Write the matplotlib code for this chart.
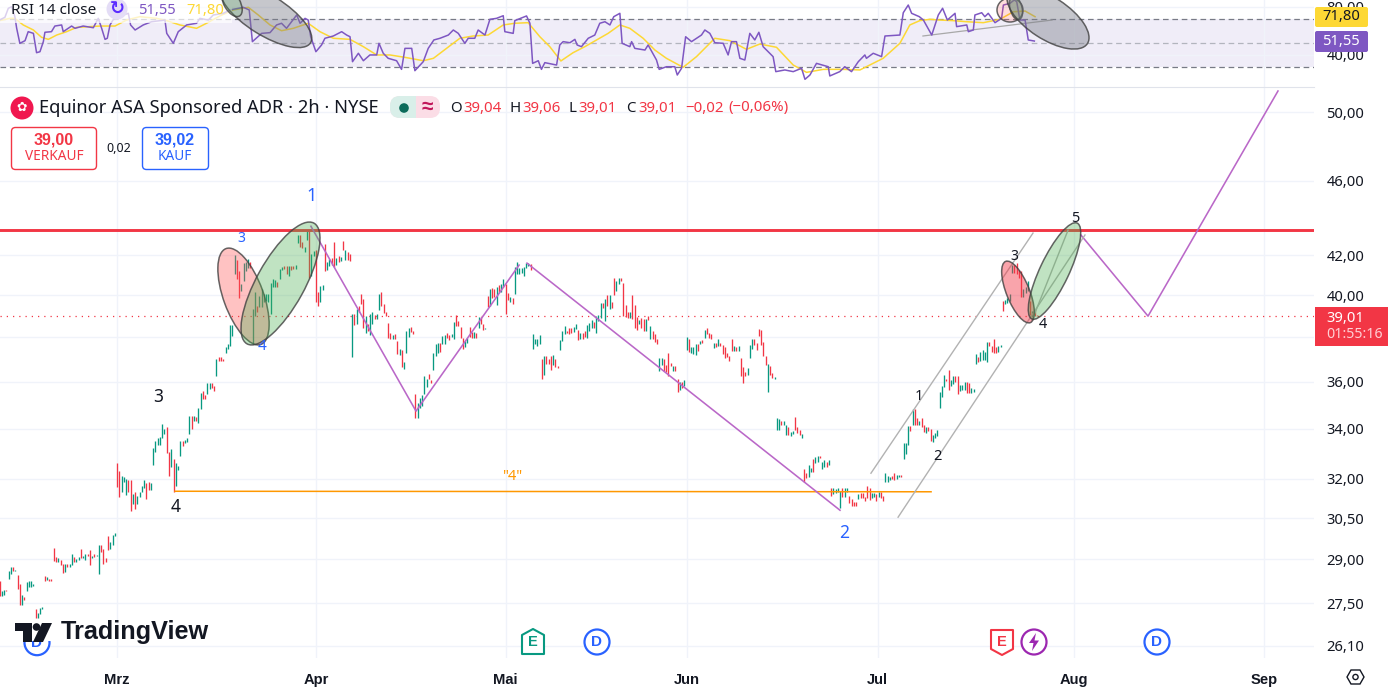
import matplotlib
matplotlib.use("Agg")
import matplotlib.pyplot as plt
from matplotlib.patches import Ellipse, Rectangle, FancyBboxPatch, Circle, Polygon

plt.rcParams["font.family"] = ["Noto Sans", "DejaVu Sans"]

GREEN = "#089981"
RED = "#f23645"
BLUE = "#2962ff"
PURPLE = "#7e57c2"
YELLOW = "#fdd835"
GRID = "#f0f3fa"
MAGENTA = "#ba68c8"
BOLD_FONT = ["Liberation Sans", "DejaVu Sans"]

# 2h bars as (open, close), wicks are left in the range
feb_bars = [
    (28.25, 27.74), (27.74, 27.91), (27.76, 27.95), (27.95, 27.90), (28.33, 28.58), (28.50, 28.73),
    (28.73, 28.58), (28.58, 28.64), (28.47, 27.97), (28.13, 27.42), (27.44, 27.78), (27.70, 27.59),
    (27.90, 28.22), (28.05, 28.24), (28.05, 28.26), (28.07, 28.16), (27.29, 27.00), (27.02, 27.16),
    (27.13, 27.34), (27.30, 27.37), (28.42, 28.24), (28.27, 28.39), (28.32, 28.24), (28.32, 28.24),
    (29.41, 28.94), (29.07, 28.90), (28.90, 29.05), (28.97, 28.82), (28.84, 28.51), (28.56, 28.84),
    (28.83, 28.72), (28.73, 28.85), (28.82, 29.19), (29.09, 28.92), (28.92, 29.01), (28.98, 29.09),
    (29.38, 29.04), (29.06, 29.13), (28.99, 29.20), (29.20, 29.13), (29.34, 28.82), (29.04, 29.13),
    (29.20, 29.10), (29.13, 29.15), (28.49, 29.52), (29.52, 29.28), (29.38, 28.84), (29.05, 28.90),
    (29.84, 29.35), (29.38, 29.62), (29.52, 29.87), (29.84, 29.95),
]
mar_bars = [
    (32.60, 31.66), (32.29, 31.29), (31.49, 32.11), (31.87, 32.07), (31.36, 32.00), (31.94, 31.47),
    (31.94, 30.76), (31.03, 31.39), (31.47, 30.83), (31.01, 31.34), (31.30, 31.49), (31.47, 31.70),
    (31.62, 31.96), (31.81, 31.21), (31.87, 31.56), (31.56, 31.81), (32.54, 33.21), (33.05, 33.51),
    (33.34, 33.63), (33.34, 33.65), (33.63, 34.21), (33.77, 34.01), (34.08, 33.00), (33.05, 32.09),
    (32.44, 33.17), (32.76, 31.48), (31.72, 32.60), (32.34, 32.51), (32.90, 33.51), (33.50, 33.30),
    (33.41, 33.54), (33.47, 33.61), (33.77, 34.52), (34.52, 33.98), (34.34, 34.52), (34.48, 34.34),
    (34.25, 34.88), (34.84, 35.51), (35.62, 35.27), (35.44, 35.24), (35.45, 35.97), (35.69, 35.94),
    (35.94, 35.72), (35.83, 35.62), (36.27, 37.02), (37.09, 36.91), (37.09, 36.94), (37.02, 36.93),
    (37.28, 37.58), (37.46, 37.69), (37.61, 38.58), (38.06, 38.58), (41.03, 42.00), (41.76, 40.79),
    (41.19, 39.87), (40.23, 40.55), (40.71, 41.60), (41.19, 41.68), (41.35, 41.79), (41.68, 41.35),
    (37.69, 39.34), (39.02, 40.14), (39.50, 39.18), (39.42, 39.98), (39.42, 40.31), (39.66, 40.06),
    (39.74, 40.06), (39.66, 40.06), (39.10, 40.60), (40.39, 40.79), (40.39, 40.76), (40.63, 40.39),
    (40.82, 41.31), (41.27, 41.40), (41.47, 41.31), (41.44, 41.03), (40.95, 41.44), (41.47, 41.24),
    (41.47, 41.31), (41.31, 41.52), (42.61, 43.04), (43.04, 42.41), (42.66, 42.38), (42.17, 42.41),
    (42.79, 43.32), (43.32, 40.87), (40.95, 42.08), (41.97, 42.21),
]
apr_bars = [
    (42.25, 39.66), (40.14, 39.50), (39.70, 40.47), (40.27, 40.50), (42.58, 41.19), (41.27, 41.68),
    (41.44, 41.79), (41.84, 41.52), (42.69, 41.40), (41.52, 41.84), (41.95, 41.68), (41.73, 41.92),
    (42.74, 42.25), (41.76, 42.28), (42.17, 41.76), (42.08, 41.73), (37.09, 39.10), (39.10, 38.58),
    (38.62, 39.34), (39.50, 39.22), (40.06, 39.58), (39.82, 38.42), (38.19, 39.02), (38.62, 38.30),
    (38.10, 39.10), (38.62, 39.18), (39.06, 38.86), (38.86, 39.10), (39.31, 40.06), (40.14, 39.50),
    (39.58, 39.15), (39.18, 39.02), (38.67, 37.98), (38.22, 37.91), (37.91, 38.10), (38.14, 37.94),
    (37.84, 37.24), (37.20, 37.46), (37.43, 36.64), (36.57, 36.89), (37.28, 38.30), (38.03, 38.46),
    (38.51, 38.26), (38.30, 38.14), (35.48, 34.45), (34.45, 35.10), (34.87, 35.30), (34.96, 35.44),
    (35.48, 36.27), (35.76, 36.12), (36.34, 36.12), (36.09, 35.94), (36.54, 37.28), (37.17, 37.69),
    (37.28, 37.73), (37.73, 37.34), (37.69, 38.06), (37.69, 38.10), (38.19, 37.98), (38.10, 37.88),
    (38.02, 38.14), (37.91, 38.70), (39.06, 38.54), (38.78, 38.54), (38.51, 37.98), (37.98, 37.49),
    (37.58, 37.84), (37.76, 37.98), (38.51, 38.03), (38.26, 37.98), (37.98, 38.26), (38.19, 37.98),
    (38.46, 38.94), (38.94, 38.62), (38.62, 38.35), (38.38, 38.46), (39.95, 39.42), (39.47, 40.31),
    (40.34, 39.86), (40.31, 39.90), (39.54, 40.39), (40.50, 40.14), (40.14, 40.55), (40.39, 40.82),
]
may_bars = [
    (40.55, 39.10), (40.11, 39.79), (39.70, 39.90), (39.86, 39.58), (40.06, 41.40), (41.03, 41.68),
    (41.03, 41.35), (41.08, 41.35), (40.95, 41.40), (41.35, 41.60), (41.47, 41.60), (41.55, 41.27),
    (37.46, 38.14), (37.69, 37.94), (37.61, 37.91), (37.69, 38.10), (37.00, 36.12), (36.29, 37.15),
    (37.15, 36.77), (37.00, 36.81), (37.15, 36.54), (36.74, 37.18), (37.00, 36.66), (36.70, 36.63),
    (37.44, 37.87), (37.84, 38.30), (38.14, 38.54), (38.30, 38.19), (38.43, 38.14), (38.43, 38.19),
    (38.27, 38.51), (38.38, 38.62), (38.33, 37.87), (37.94, 38.22), (38.19, 37.91), (38.30, 38.03),
    (37.96, 38.57), (38.30, 38.67), (38.46, 38.83), (38.70, 38.43), (38.22, 39.02), (38.75, 39.05),
    (38.89, 39.62), (39.62, 39.41), (38.76, 39.81), (40.00, 39.46), (39.33, 40.00), (39.68, 39.41),
    (40.87, 40.00), (40.21, 40.71), (40.54, 40.87), (40.84, 40.68), (40.59, 39.02), (39.52, 38.94),
    (39.21, 38.89), (38.89, 39.21), (40.00, 38.86), (39.52, 38.46), (38.94, 38.35), (38.62, 38.83),
    (38.89, 38.43), (38.86, 38.30), (38.30, 38.86), (39.02, 38.83), (37.91, 38.54), (38.30, 37.91),
    (38.14, 37.79), (37.91, 37.69), (36.47, 37.06), (36.74, 37.07), (37.00, 36.47), (36.74, 36.44),
    (37.29, 36.27), (36.85, 36.70), (36.47, 36.69), (36.69, 36.50), (36.12, 35.54), (35.64, 36.00),
    (36.00, 35.74), (35.83, 36.06),
]
jun_bars = [
    (37.44, 38.03), (37.91, 37.32), (37.29, 37.54), (37.25, 37.54), (37.21, 37.69), (37.69, 37.40),
    (37.69, 37.84), (37.87, 37.76), (37.96, 38.33), (38.46, 38.14), (38.22, 37.99), (38.14, 37.91),
    (37.51, 37.76), (37.76, 37.57), (37.59, 37.91), (37.76, 37.59), (37.66, 37.25), (37.54, 37.06),
    (37.29, 37.10), (37.13, 36.91), (37.91, 37.40), (37.40, 37.59), (37.57, 37.40), (37.40, 37.59),
    (37.06, 36.25), (36.66, 35.97), (36.44, 36.26), (36.29, 36.63), (37.07, 37.65), (37.47, 37.94),
    (37.91, 37.65), (37.74, 37.44), (38.41, 38.09), (38.35, 37.65), (37.81, 37.13), (37.13, 36.74),
    (35.54, 36.77), (36.71, 36.29), (36.41, 36.18), (36.14, 36.22), (33.97, 34.47), (33.96, 34.39),
    (34.31, 34.14), (34.14, 34.33), (33.73, 34.17), (34.07, 33.73), (33.71, 33.87), (33.77, 33.89),
    (34.50, 33.93), (34.07, 33.84), (33.93, 33.73), (33.64, 33.80), (32.37, 31.85), (32.20, 32.04),
    (32.07, 32.54), (32.27, 32.40), (32.76, 32.27), (32.60, 32.87), (32.67, 32.91), (32.88, 32.80),
    (32.36, 32.67), (32.47, 32.74), (32.64, 32.47), (32.54, 32.72), (31.64, 31.32), (31.39, 31.64),
    (31.43, 31.59), (31.49, 31.62), (30.86, 31.53), (31.62, 31.30), (31.30, 31.64), (31.49, 31.62),
    (31.34, 31.05), (31.21, 30.96), (31.11, 30.96), (31.09, 30.95), (31.21, 31.40), (31.43, 31.24),
    (31.43, 31.24), (31.29, 31.14), (31.72, 31.24), (31.62, 31.17), (31.24, 31.43), (31.30, 31.43),
    (31.39, 31.15), (31.29, 31.49), (31.47, 31.24), (31.31, 31.15),
]
jul_bars = [
    (31.85, 32.20), (31.87, 32.09), (31.94, 32.07), (32.09, 31.97), (32.20, 31.96), (32.00, 32.13),
    (32.07, 32.13), (32.13, 32.05), (32.76, 33.43), (32.96, 33.43), (33.33, 34.11), (34.11, 33.89),
    (34.14, 34.82), (34.85, 34.14), (34.45, 34.14), (34.14, 34.33), (34.43, 34.07), (34.14, 33.87),
    (33.84, 34.07), (34.07, 33.91), (34.00, 33.51), (33.47, 33.73), (33.61, 33.84), (33.71, 33.93),
    (34.89, 35.56), (35.35, 35.84), (35.77, 36.28), (36.13, 36.04), (36.53, 35.66), (35.84, 36.06),
    (35.91, 36.25), (36.24, 35.99), (36.24, 35.49), (35.59, 35.87), (35.63, 35.87), (35.63, 36.01),
    (35.99, 35.53), (35.96, 35.53), (35.53, 35.74), (35.56, 35.70), (36.80, 37.25), (37.10, 36.88),
    (36.92, 37.32), (36.96, 37.44), (36.96, 37.35), (36.90, 37.79), (37.81, 37.62), (37.62, 37.35),
    (37.94, 37.29), (37.54, 37.29), (37.32, 37.59), (37.54, 37.66), (39.73, 39.25), (39.57, 39.78),
    (39.62, 39.89), (39.73, 40.05), (41.11, 41.51), (41.51, 41.11), (41.59, 41.03), (41.27, 40.86),
    (41.19, 39.94), (39.94, 40.29), (40.10, 40.40), (40.21, 40.70), (39.73, 39.05), (38.94, 39.25),
    (39.33, 39.01), (39.04, 39.01),
]

price_ticks = [50, 46, 42, 40, 38, 36, 34, 32, 30.5, 29, 27.5, 26.1]
month_labels = ["Mrz", "Apr", "Mai", "Jun", "Jul", "Aug", "Sep"]
month_bars = [52, 140, 224, 304, 388.5, 475.5, 559.5]

last_price = 39.01
resistance = 43.3
support_bars = [77.7, 412.2]
support_prices = [31.51, 31.49]

# drawn trend lines, bar number and price
zigzag1_bars = [137.8, 184.3, 229.9]
zigzag1_prices = [43.51, 34.74, 41.50]
zigzag2_bars = [233.4, 371.9]
zigzag2_prices = [41.6, 30.79]
forecast_bars = [478.5, 508.2, 565.7]
forecast_prices = [43.05, 39.0, 51.3]
channel_up_bars = [385.6, 457.3]
channel_up_prices = [32.21, 43.15]
channel_low_bars = [397.6, 480.3]
channel_low_prices = [30.53, 43.05]
inner_bars = [456.9, 472.8]
inner_prices = [38.81, 43.3]

rsi_bars = [
    0, 2.4, 3.9, 5.4, 6.8, 7.6, 9, 11.3, 12.7, 15, 16.4, 17.9, 19.4, 20.1, 23, 24.5, 27.5, 28.2, 31.9, 33.4,
    37, 41.5, 43.7, 45.2, 46.7, 47.7, 48.9, 51.1, 54.8, 57, 58, 60, 63.6, 67.3, 73.2, 74, 76.9, 79.1, 82.8, 87.2,
    88.7, 92.4, 94.6, 99, 102, 105.7, 107.9, 110.5, 111.9, 116, 119.7, 122.6, 124.8, 127, 131.5, 133, 135.2, 136.6, 137.7, 140,
    142.5, 144, 147.7, 151.4, 153.6, 155.1, 156.2, 158.8, 161, 163.9, 166.9, 167.9, 169.8, 172, 175.7, 177.9, 179.4, 182.4, 183.8, 187.5,
    189.7, 192.2, 194.9, 198.6, 200.8, 203, 205.9, 207.4, 210.3, 211.8, 214.8, 217, 219.9, 222.9, 223.6, 227.3, 228, 233.2, 234.7, 235.9,
    238.4, 239.8, 241.3, 246.5, 247.9, 249.4, 252.4, 254.6, 255.6, 257.5, 260.5, 263.4, 265.6, 267.9, 270.1, 271.8, 274.5, 275.5, 278.9, 279.7,
    281.1, 285.6, 287, 290.7, 291.9, 295.1, 298.8, 299.9, 301.8, 303.6, 306.2, 310.6, 312.1, 314.3, 316.5, 320.2, 322.4, 323.9, 326.1, 327.6,
    329.8, 332, 334.2, 336, 337.9, 342.3, 343.5, 347.5, 351.2, 354.9, 356.4, 358.6, 361.5, 366.7, 367.4, 371.8, 374, 377, 380, 382.9,
    383.6, 386.6, 390.3, 391.8, 398.4, 399.9, 402.1, 403.6, 407, 408.8, 412.5, 415.4, 417.3, 419.4, 422.8, 423.5, 428, 428.7, 430.9, 431.6,
    434.6, 436, 437.5, 440.5, 443.4, 444.2, 447.1, 449, 450.1, 451.5, 453.8, 455.2, 457.9,
]
rsi_values = [
    69.1, 71.4, 78.9, 80.2, 71.9, 62.2, 49.7, 51.9, 59.4, 58, 41.9, 42.7, 51.1, 58.9, 59.4, 64.1, 65, 59.4, 64.1, 62.2,
    64.1, 62.7, 70.5, 62.2, 53, 53.9, 65, 71.9, 73.3, 74.7, 65, 60.8, 65, 67.7, 69.1, 58, 49.7, 59.4, 65, 66.4,
    70.5, 69.1, 73.3, 74.7, 77.5, 78.9, 79.7, 77.5, 51.1, 58, 58.6, 65, 66.4, 62.2, 73.3, 66.4, 70.5, 69.1, 55.2, 42.7,
    48.3, 53.9, 55.8, 59.4, 56.6, 55.2, 34.4, 41.4, 35.2, 40, 40, 49.7, 41.4, 37.2, 35.2, 28, 45.5, 45.5, 26.9, 34.4,
    45.5, 52.5, 53.9, 56.6, 60.8, 58, 49.7, 53.9, 53.9, 60.8, 56.6, 69.7, 70.5, 72.7, 59.4, 58, 68.6, 72.5, 66.4, 33,
    35.2, 28, 33.6, 31.6, 48.3, 51.1, 50.2, 53, 48.3, 46.9, 53.9, 56.6, 66.4, 67.7, 65, 71.9, 74.7, 49.7, 46.9, 51.1,
    45.5, 44.1, 48.3, 35.8, 28, 30.2, 30.2, 23.3, 28.9, 55.2, 51.1, 56.6, 60.8, 58, 50.2, 49.7, 40, 51.1, 51.1, 37.2,
    35.8, 58, 52.5, 58.9, 46.9, 38.6, 26.1, 27.5, 26.1, 28.9, 19.7, 23.3, 33, 30.2, 22.5, 26.1, 30.2, 26.1, 34.4, 40,
    37.2, 41.4, 38.6, 55.8, 56.6, 75.2, 81.6, 74.7, 71.9, 69.1, 56.6, 73.3, 78.9, 69.1, 74.7, 63.6, 65, 59.4, 60.8, 73.3,
    75.2, 71.9, 74.7, 66.9, 70.5, 81.6, 83, 85.8, 84.4, 69.1, 69.1, 52.5, 51.6,
]
rsi_ma_bars = [
    0, 4.6, 6.8, 10.5, 15, 18.6, 21.6, 25.3, 29.7, 34.1, 40, 44.5, 51.1, 56.2, 62.1, 69.5, 74, 79.8, 87.2, 91.6,
    97.5, 103.4, 110.1, 114.5, 119.7, 124.8, 130, 136.6, 141.8, 147.7, 155.1, 161, 166.9, 172.8, 179.4, 187.5, 192, 197.8, 203.7, 209.6,
    216.2, 222.9, 228, 233.9, 239.1, 243.5, 248.4, 253.8, 259, 264.2, 269.3, 274.5, 278.9, 284.8, 290, 295.1, 302.5, 308.4, 316.5, 323.2,
    330.5, 336.4, 343.8, 351.2, 357.1, 364.5, 373.3, 380.7, 391, 398.4, 402.8, 407.2, 411.7, 416.1, 422, 428, 435.3, 442.7, 448.6, 453.8, 458.2,
]
rsi_ma_values = [
    68.6, 70.5, 70.5, 65, 60.8, 54.7, 53, 56.6, 59.4, 63, 63.6, 64.1, 64.1, 69.1, 71.9, 70.5, 68.6, 65, 62.2, 66.4,
    72.5, 77.5, 79.7, 73.3, 65, 60.2, 62.2, 66.4, 59.4, 53.9, 53, 46.9, 40, 40, 38, 35.2, 37.2, 45.5, 53.9, 55.8,
    56.6, 65, 66.4, 66.9, 55.2, 46.9, 35, 41.9, 46.9, 52.5, 58, 65, 62.2, 53.9, 44.1, 37.2, 29.7, 38.6, 53.9, 51.9,
    44.7, 49.1, 46.4, 31.6, 25.5, 28, 28, 27.5, 37.2, 49.7, 65, 68.6, 69.7, 69.1, 68.6, 67.7, 66.9, 69.7, 76, 76.6, 71.9,
]
rsi_trend_bars = [408.6, 465.7]
rsi_trend_values = [55.8, 69.1]

W, H = 1388, 692
PANE_RIGHT = 1314
BAR_STEP = 2.26


def axes_px(fig, left, top, right, bottom, **kw):
    return fig.add_axes([left / W, 1 - bottom / H, (right - left) / W, (bottom - top) / H], **kw)


def comma(v):
    return f"{v:.2f}".replace(".", ",")


def bar_limits():
    return (0 + 0.5) / BAR_STEP, (PANE_RIGHT + 0.5) / BAR_STEP


fig = plt.figure(figsize=(W / 100, H / 100), dpi=100, facecolor="white")

# RSI pane
ax_rsi = axes_px(fig, 0, 0, PANE_RIGHT, 87)
ax_rsi.set_xlim(*bar_limits())
ax_rsi.set_ylim(13.3, 85.8)
ax_rsi.axhspan(30, 70, color="#f0edf8", lw=0, zorder=0)
for level, col in [(70, "#787b86"), (50, "#b2b5be"), (30, "#787b86")]:
    ax_rsi.axhline(level, color=col, lw=0.9, ls=(0, (4.5, 3)), zorder=1)
ax_rsi.plot(rsi_trend_bars, rsi_trend_values, color="#a8a8a8", lw=0.9, zorder=2)
ax_rsi.plot(rsi_ma_bars, rsi_ma_values, color=YELLOW, lw=1.1, zorder=3)
ax_rsi.plot(rsi_bars, rsi_values, color=PURPLE, lw=1.1, zorder=4)
ax_rsi.set_yticks([80, 40], ["80,00", "40,00"])
ax_rsi.yaxis.tick_right()
ax_rsi.set_xticks(month_bars)
ax_rsi.tick_params(length=0, labelbottom=False, labelright=True, labelsize=10.6, labelcolor="#131722", pad=9)
ax_rsi.grid(True, color=GRID, lw=1)
ax_rsi.set_axisbelow(True)
for s in ax_rsi.spines.values():
    s.set_visible(False)

# price pane
ax = axes_px(fig, 0, 87, PANE_RIGHT, 658)
ax.set_yscale("log")
ax.set_xlim(*bar_limits())
ax.set_ylim(25.72, 51.55)
all_bars = feb_bars + mar_bars + apr_bars + may_bars + jun_bars + jul_bars
bar_x = list(range(len(all_bars)))
lows = [min(b) for b in all_bars]
highs = [max(b) for b in all_bars]
colors = [GREEN if b[1] >= b[0] else RED for b in all_bars]
ax.vlines(bar_x, lows, highs, colors=colors, lw=0.95, zorder=3)

ax.axhline(resistance, color=RED, lw=2.1, zorder=4)
ax.axhline(last_price, color=RED, lw=0.9, ls=(0, (1, 4)), zorder=2)
ax.plot(support_bars, support_prices, color="#ff9800", lw=1.1, zorder=4)
for xs, ys in [(zigzag1_bars, zigzag1_prices), (zigzag2_bars, zigzag2_prices), (forecast_bars, forecast_prices)]:
    ax.plot(xs, ys, color=MAGENTA, lw=1.15, zorder=4)
for xs, ys in [(channel_up_bars, channel_up_prices), (channel_low_bars, channel_low_prices), (inner_bars, inner_prices)]:
    ax.plot(xs, ys, color="#b2b2b2", lw=1.0, zorder=4)

ax.set_yticks(price_ticks, [comma(p) for p in price_ticks])
ax.minorticks_off()
ax.yaxis.tick_right()
ax.set_xticks(month_bars, month_labels, fontweight="bold", family=BOLD_FONT)
ax.tick_params(length=0, labelsize=10.6, labelcolor="#131722")
ax.tick_params(axis="y", pad=9)
ax.tick_params(axis="x", pad=11)
ax.grid(True, color=GRID, lw=1)
ax.set_axisbelow(True)
for name, s in ax.spines.items():
    s.set_visible(name == "top")
    s.set_color("#e0e3eb")

# overlay in pixels for drawings, badges and header
ov = fig.add_axes([0, 0, 1, 1], zorder=10)
ov.set_xlim(0, W)
ov.set_ylim(H, 0)
ov.axis("off")
ov.patch.set_alpha(0)


def label(x, y, s, color="#131722", size=10.5, ha="center", weight="normal", **kw):
    if weight == "bold":
        kw["family"] = BOLD_FONT
    return ov.text(x, y, s, color=color, fontsize=size, ha=ha, va="center", fontweight=weight, **kw)


def oval(cx, cy, w, h, ang, fill, alpha=0.35, edge="#404040"):
    ov.add_patch(Ellipse((cx, cy), w, h, angle=ang, facecolor=fill, alpha=alpha, lw=0, zorder=3))
    ov.add_patch(Ellipse((cx, cy), w, h, angle=ang, facecolor="none", edgecolor=edge, alpha=0.8, lw=1.1, zorder=3))


def box(x0, y0, x1, y1, face="white", edge="none", round_px=4, lw=1.0, **kw):
    ov.add_patch(FancyBboxPatch((x0 + round_px, y0 + round_px), x1 - x0 - 2 * round_px, y1 - y0 - 2 * round_px,
                                boxstyle=f"round,pad={round_px},rounding_size={round_px}",
                                facecolor=face, edgecolor=edge, lw=lw, **kw))


# ellipses on the price pane
oval(243.5, 296.5, 102, 40, 70, "#ff5252")
oval(280.5, 283.5, 138, 48, 119, "#4caf50")
oval(1018, 292, 66, 23, 68, "#f23645", alpha=0.45)
oval(1054.5, 271, 106, 29, 115.4, "#4caf50")

# ellipses on the RSI pane
oval(266, 15, 105, 40, 32, "#787b86", alpha=0.42)
oval(232, 3, 30, 16, 60, "#4caf50", alpha=0.2)
oval(1010, 10, 26, 24, 0, "#ff5252", alpha=0.2)
oval(1016, 8, 24, 12, 75, "#4caf50", alpha=0.3)
oval(1048, 18, 94, 42, 33, "#787b86", alpha=0.42)

# RSI legend
ov.add_patch(Rectangle((0, 0), 232, 23, facecolor="white", alpha=0.72, lw=0, zorder=2))
label(11, 10, "RSI 14 close", ha="left", size=11, zorder=4)
ov.add_patch(Circle((117, 9), 10.5, facecolor="#e4ddf6", lw=0, zorder=4))
label(117, 9, "↻", color="#5c2dff", size=13, weight="bold", zorder=5)
label(138, 10, "51,55", color=PURPLE, ha="left", size=10.6, zorder=4)
label(186, 10, "71,80", color=YELLOW, ha="left", size=10.6, zorder=4)

# header
ov.add_patch(Circle((22, 108), 11.5, facecolor="#f0174f", lw=0))
label(22, 107, "✿", color="white", size=9)
label(39, 108, "Equinor ASA Sponsored ADR · 2h · NYSE", ha="left", size=13.2)
box(390, 96, 440, 118, face="#fbdde6", round_px=10)
box(390, 96, 415, 118, face="#d9efe9", round_px=10)
ov.add_patch(Rectangle((405, 96), 11, 22, facecolor="#d9efe9", lw=0))
ov.add_patch(Circle((404, 108), 4.8, facecolor="#0b6b5a", lw=0))
label(427, 107, "≈", color="#c2185b", size=15, weight="bold")

ohlc_x = [450, 510, 569, 626]
ohlc_gap = [13, 12, 9, 12]
ohlc_letters = ["O", "H", "L", "C"]
ohlc_values = ["39,04", "39,06", "39,01", "39,01"]
for x, gap, letter, val in zip(ohlc_x, ohlc_gap, ohlc_letters, ohlc_values):
    label(x, 108, letter, ha="left", size=10.8)
    label(x + gap, 108, val, color=RED, ha="left", size=10.8)
label(685, 108, "−0,02", color=RED, ha="left", size=10.8)
label(728, 108, "(−0,06%)", color=RED, ha="left", size=10.8)

# sell and buy buttons
box(11.5, 127.5, 96.5, 169.5, edge=RED)
label(54, 140, "39,00", color=RED, weight="bold", size=11.5)
label(54, 157, "VERKAUF", color=RED, size=9.8)
label(119, 149, "0,02", size=9)
box(142.5, 127.5, 208.5, 169.5, edge=BLUE)
label(175, 140, "39,02", color=BLUE, weight="bold", size=11.5)
label(175, 157, "KAUF", color=BLUE, size=9.8)

# wave counts
waves = [
    (312, 196, "1", BLUE, 13), (241, 238, "3", BLUE, 10), (262, 347, "4", BLUE, 11),
    (158, 397, "3", "#131722", 12.5), (176, 507, "4", "#131722", 12.5), (844, 533, "2", BLUE, 12.5),
    (919, 397, "1", "#131722", 10.5), (937, 456, "2", "#131722", 10.5), (1014, 256, "3", "#131722", 10),
    (1043, 324, "4", "#131722", 10.5), (1075, 218, "5", "#131722", 10.5),
]
for x, y, s, c, sz in waves:
    label(x, y, s, color=c, size=sz)
label(512, 476, '"4"', color="#ff9800", size=10.5)

# price scale badges
box(1315, 7, 1368, 27, face=YELLOW, round_px=2, zorder=4)
label(1360, 17, "71,80", ha="right", size=10.6, zorder=5)
box(1315, 31, 1368, 52, face=PURPLE, round_px=2, zorder=4)
label(1360, 41.5, "51,55", color="white", ha="right", size=10.6, zorder=5)
ov.add_patch(Rectangle((1315, 307), 73, 39, facecolor=RED, lw=0, zorder=4))
label(1326, 318, "39,01", color="white", ha="left", size=10.6, zorder=5)
label(1326, 335, "01:55:16", color="#ffd0d5", ha="left", size=10.2, zorder=5)


# event markers
def coin(x, y, s, color, size=11):
    ov.add_patch(Circle((x, y), 12.5, facecolor="white", edgecolor=color, lw=1.6))
    label(x, y, s, color=color, size=size, weight="bold")


def tag(x, y, color, down):
    if down:
        pts = [(x - 11, y - 12), (x + 11, y - 12), (x + 11, y + 7), (x, y + 13), (x - 11, y + 7)]
    else:
        pts = [(x - 11, y + 12), (x + 11, y + 12), (x + 11, y - 7), (x, y - 13), (x - 11, y - 7)]
    ov.add_patch(Polygon(pts, closed=True, facecolor="white", edgecolor=color, lw=1.5, joinstyle="round"))
    label(x, y, "E", color=color, size=10.5, weight="bold")


coin(37, 642.7, "D", BLUE)
tag(533, 642, GREEN, False)
coin(597, 642, "D", BLUE)
tag(1002, 642, RED, True)
coin(1034, 642, "", "#9c27b0")
ov.add_patch(Polygon([(1036, 633), (1029, 643), (1033.5, 643), (1032, 651), (1039, 640.5), (1034.5, 640.5)],
                     closed=True, facecolor="#9c27b0", lw=0))
coin(1157, 642, "D", BLUE)

# TradingView logo
ov.add_patch(Rectangle((14, 621), 40, 20, facecolor="white", lw=0, zorder=4))
LOGO = "#131722"
ov.add_patch(Polygon([(15, 623), (32, 623), (32, 642), (23, 642), (23, 631), (15, 631)], closed=True, facecolor=LOGO, lw=0, zorder=5))
ov.add_patch(Circle((36.5, 627), 3.8, facecolor=LOGO, lw=0, zorder=5))
ov.add_patch(Polygon([(42, 623), (52, 623), (43, 642), (33, 642)], closed=True, facecolor=LOGO, lw=0, zorder=5))
label(61, 632.5, "TradingView", color=LOGO, ha="left", size=18.2, weight="bold", zorder=5)

# settings hexagon
ov.add_patch(Polygon([(1347, 677), (1351, 670), (1360, 670), (1364, 677), (1360, 684), (1351, 684)], closed=True,
                     facecolor="none", edgecolor="#131722", lw=1))
ov.add_patch(Circle((1355.5, 677), 2.6, facecolor="none", edgecolor="#131722", lw=1))

fig.savefig("out.png", dpi=100)
